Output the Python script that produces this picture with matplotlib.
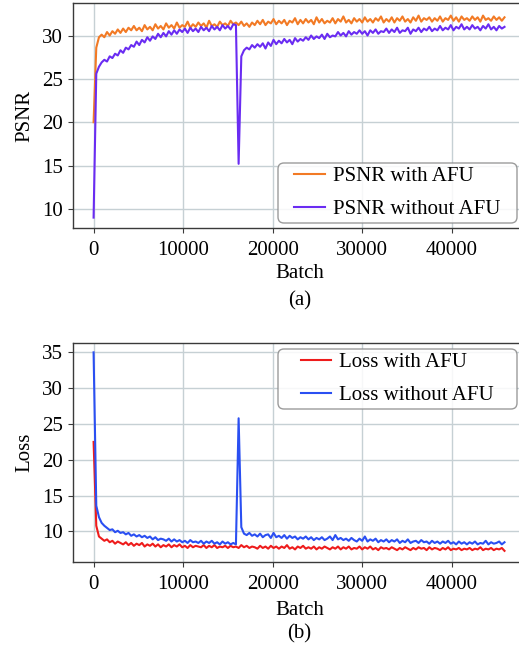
import numpy as np
import matplotlib
matplotlib.use("Agg")
import matplotlib.pyplot as plt
from matplotlib.patches import FancyBboxPatch

plt.rcParams['font.family'] = ['Liberation Serif', 'DejaVu Serif']
plt.rcParams['font.size'] = 15

# Batch index (logged every 300 batches)
batch = np.arange(0, 46000, 300)

psnr_afu = [
    20.0, 28.6, 29.8, 30.1, 29.8, 30.4, 30.0, 30.5, 30.2, 30.7,
    30.3, 30.8, 30.4, 30.9, 30.6, 31.1, 30.6, 30.9, 30.5, 31.2,
    30.7, 31.0, 30.6, 31.3, 30.8, 31.1, 30.7, 31.4, 30.9, 31.2,
    30.8, 31.5, 30.9, 31.2, 31.0, 31.6, 30.9, 31.3, 31.0, 31.5,
    31.1, 31.4, 30.9, 31.7, 31.1, 31.3, 31.0, 31.6, 31.2, 31.4,
    31.1, 31.7, 31.3, 31.5, 31.2, 31.6, 31.1, 31.4, 31.0, 31.5,
    31.2, 31.7, 31.3, 31.8, 31.2, 31.6, 31.4, 31.9, 31.3, 31.7,
    31.4, 31.8, 31.2, 31.7, 31.5, 32.0, 31.3, 31.8, 31.4, 31.9,
    31.5, 31.8, 31.3, 32.1, 31.5, 31.9, 31.4, 31.7, 31.5, 32.0,
    31.4, 31.9, 31.6, 32.2, 31.5, 31.8, 31.4, 32.0, 31.6, 31.9,
    31.5, 32.1, 31.6, 31.9, 31.5, 32.0, 31.7, 32.2, 31.5, 31.9,
    31.6, 32.1, 31.5, 32.0, 31.7, 32.2, 31.6, 31.9, 31.5, 32.1,
    31.7, 32.3, 31.6, 32.0, 31.8, 32.1, 31.6, 32.0, 31.7, 32.2,
    31.6, 32.0, 31.8, 32.3, 31.7, 32.1, 31.6, 32.2, 31.8, 32.0,
    31.7, 32.2, 31.8, 32.1, 31.6, 32.3, 31.8, 32.0, 31.7, 32.2,
    31.8, 32.1, 31.7, 32.1,
]

psnr_no_afu = [
    9.0, 25.6, 26.4, 26.9, 27.2, 27.0, 27.6, 27.4, 27.9, 27.7,
    28.3, 28.0, 28.6, 28.4, 28.9, 28.7, 29.3, 28.9, 29.5, 29.2,
    29.8, 29.4, 29.9, 29.6, 30.2, 29.8, 30.3, 29.9, 30.5, 30.1,
    30.6, 30.2, 30.7, 30.4, 30.8, 30.3, 30.9, 30.5, 30.8, 30.4,
    31.0, 30.6, 30.9, 30.5, 31.1, 30.7, 31.0, 30.6, 31.2, 30.8,
    31.1, 30.7, 31.3, 31.2, 15.2, 27.6, 28.3, 28.6, 28.4, 28.9,
    28.6, 29.0, 28.7, 29.1, 28.5, 29.2, 28.8, 29.5, 29.0, 29.4,
    29.1, 29.6, 29.2, 29.5, 29.0, 29.7, 29.3, 29.6, 29.4, 29.8,
    29.5, 30.0, 29.6, 29.9, 29.7, 30.1, 29.6, 30.2, 29.8, 30.0,
    29.9, 30.4, 30.0, 30.3, 29.9, 30.5, 30.1, 30.4, 30.2, 30.6,
    30.2, 30.5, 30.0, 30.6, 30.3, 30.7, 30.2, 30.5, 30.4, 30.8,
    30.3, 30.7, 30.4, 30.9, 30.3, 30.6, 30.5, 30.9, 30.2, 30.7,
    30.5, 30.9, 30.4, 30.8, 30.6, 31.0, 30.5, 30.8, 30.6, 31.1,
    30.6, 30.9, 30.7, 31.2, 30.6, 31.0, 30.8, 31.3, 30.7, 31.0,
    30.7, 31.2, 30.8, 31.0, 30.6, 31.1, 30.8, 31.3, 30.7, 31.0,
    30.6, 31.1, 30.8, 31.0,
]

loss_afu = [
    22.5, 10.8, 9.3, 9.0, 8.7, 8.9, 8.5, 8.7, 8.3, 8.6,
    8.4, 8.2, 8.5, 8.1, 8.4, 8.0, 8.3, 8.1, 8.4, 7.9,
    8.2, 8.0, 8.3, 7.9, 8.2, 7.8, 8.1, 7.9, 8.2, 7.8,
    8.1, 7.9, 8.2, 7.8, 8.0, 7.7, 8.1, 7.8, 8.0, 7.9,
    7.8, 8.1, 7.7, 8.0, 7.8, 8.1, 7.7, 7.9, 7.8, 8.0,
    7.7, 8.0, 7.8, 7.9, 7.7, 8.1, 7.8, 8.0, 7.7, 7.9,
    7.8, 7.6, 8.0, 7.7, 7.9, 7.6, 8.0, 7.7, 7.9, 7.6,
    7.9, 7.7, 8.1, 7.6, 7.8, 7.5, 7.9, 7.7, 8.0, 7.6,
    7.8, 7.6, 7.9, 7.5, 7.8, 7.6, 7.9, 7.7, 7.5, 7.8,
    7.6, 7.9, 7.5, 7.8, 7.6, 7.9, 7.5, 7.7, 7.6, 7.9,
    7.5, 7.8, 7.6, 7.9, 7.5, 7.7, 7.4, 7.8, 7.6, 7.7,
    7.5, 7.8, 7.6, 7.4, 7.7, 7.5, 7.8, 7.6, 7.4, 7.7,
    7.5, 7.8, 7.6, 7.7, 7.4, 7.8, 7.5, 7.7, 7.6, 7.4,
    7.7, 7.5, 7.8, 7.4, 7.6, 7.5, 7.7, 7.4, 7.6, 7.5,
    7.7, 7.4, 7.6, 7.5, 7.8, 7.4, 7.6, 7.5, 7.7, 7.4,
    7.6, 7.5, 7.7, 7.3,
]

loss_no_afu = [
    35.0, 13.6, 12.0, 11.2, 10.8, 10.5, 10.2, 10.3, 9.9, 10.1,
    9.8, 9.9, 9.6, 9.8, 9.4, 9.6, 9.3, 9.5, 9.2, 9.4,
    9.1, 9.3, 8.9, 9.2, 8.8, 9.0, 8.9, 8.7, 9.0, 8.6,
    8.9, 8.6, 8.8, 8.5, 8.7, 8.4, 8.8, 8.5, 8.6, 8.4,
    8.7, 8.3, 8.6, 8.4, 8.7, 8.3, 8.5, 8.2, 8.6, 8.3,
    8.5, 8.2, 8.4, 8.2, 25.8, 10.6, 9.7, 9.5, 9.8, 9.4,
    9.6, 9.3, 9.7, 9.2, 9.5, 9.6, 9.1, 9.8, 9.2, 9.4,
    9.1, 9.5, 9.0, 9.4, 9.1, 9.3, 8.9, 9.2, 9.0, 9.3,
    8.9, 9.2, 8.8, 9.1, 8.9, 9.2, 8.8, 9.0, 9.3, 8.8,
    9.5, 8.9, 9.1, 8.8, 9.0, 8.7, 9.1, 8.8, 8.6, 9.0,
    8.7, 9.3, 8.6, 8.9, 8.7, 9.0, 8.5, 8.8, 8.6, 8.9,
    8.5, 8.8, 8.6, 8.9, 8.4, 8.7, 8.5, 8.9, 8.4, 8.6,
    8.7, 8.4, 8.8, 8.5, 8.6, 8.3, 8.7, 8.4, 8.6, 8.3,
    8.6, 8.4, 8.7, 8.3, 8.5, 8.2, 8.6, 8.3, 8.5, 8.2,
    8.5, 8.3, 8.6, 8.2, 8.4, 8.3, 8.7, 8.2, 8.5, 8.3,
    8.4, 8.6, 8.2, 8.5,
]

xticks = [0, 10000, 20000, 30000, 40000]
psnr_ticks = [10, 15, 20, 25, 30]
loss_ticks = [10, 15, 20, 25, 30, 35]

W, H = 519, 649
fig = plt.figure(figsize=(W / 100, H / 100), dpi=100)
ax1 = fig.add_axes([73/W, 1 - 228/H, 453/W, 225/H])
ax2 = fig.add_axes([73/W, 1 - 562.3/H, 453/W, 219.6/H])

grid_color = '#c6d0d4'
spine_color = '#3a3a3a'

def style(ax):
    ax.grid(True, color=grid_color, linewidth=1.0)
    ax.set_axisbelow(True)
    for s in ax.spines.values():
        s.set_color(spine_color)
        s.set_linewidth(1.0)
    ax.tick_params(direction='out', length=3.5, width=0.8, color=spine_color,
                   labelsize=15)
    ax.tick_params(axis='x', pad=5.5)
    ax.set_xticks(xticks)
    ax.set_xlim(-2300, 48300)

def legend_box(ax, px_left, px_top, px_w, px_h):
    # legend frame of fixed size, content centred inside
    cx = (px_left + px_w / 2) / W
    cy = 1 - (px_top + px_h / 2) / H
    leg = ax.legend(loc='center', bbox_to_anchor=(cx, cy),
                    bbox_transform=fig.transFigure, frameon=False,
                    fontsize=15, borderpad=0, handlelength=1.45,
                    handletextpad=0.4, labelspacing=0.64)
    leg.set_zorder(6)
    patch = FancyBboxPatch((px_left / W, 1 - (px_top + px_h) / H),
                           px_w / W, px_h / H,
                           boxstyle='round,pad=0,rounding_size=%f' % (6 / W),
                           mutation_aspect=W / H,
                           transform=fig.transFigure, facecolor='white',
                           edgecolor='#8a8a8a', linewidth=1.0, alpha=0.85,
                           zorder=5.5, clip_on=False)
    ax.add_artist(patch)
    patch.set_clip_on(False)
    return leg

ax1.plot(batch, psnr_afu, color='#f27a25', lw=1.5, label='PSNR with AFU')
ax1.plot(batch, psnr_no_afu, color='#6a2cf2', lw=1.5, label='PSNR without AFU')
style(ax1)
ax1.set_yticks(psnr_ticks)
ax1.set_ylim(7.8, 33.75)
ax1.set_ylabel('PSNR', fontsize=15, labelpad=6)
ax1.set_xlabel('Batch', fontsize=15, labelpad=3.5)
legend_box(ax1, 278, 163, 239, 60)

ax2.plot(batch, loss_afu, color='#ee1c1c', lw=1.5, label='Loss with AFU')
ax2.plot(batch, loss_no_afu, color='#2a4ff2', lw=1.5, label='Loss without AFU')
style(ax2)
ax2.set_yticks(loss_ticks)
ax2.set_ylim(5.7, 36.35)
ax2.set_ylabel('Loss', fontsize=15, labelpad=6)
ax2.set_xlabel('Batch', fontsize=15, labelpad=5)
legend_box(ax2, 278, 349, 239, 60)

fig.text((73 + 526) / 2 / W, 1 - 301/H, '(a)', ha='center', va='center', fontsize=15)
fig.text((73 + 526) / 2 / W, 1 - 634/H, '(b)', ha='center', va='center', fontsize=15)

fig.savefig('out.png', dpi=100)
